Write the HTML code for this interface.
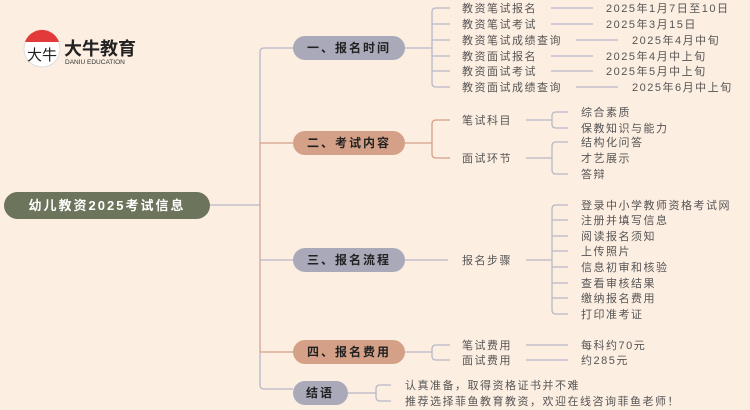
<!DOCTYPE html>
<html><head><meta charset="utf-8"><style>
body{margin:0;background:#fdeee2;}
svg{display:block;font-family:"Liberation Sans","Noto Sans CJK SC",sans-serif;}
.t{font-size:11px;fill:#555;letter-spacing:1.5px;}
.n{font-size:12px;font-weight:bold;fill:#222;letter-spacing:2px;}
</style></head><body>
<svg width="750" height="410" viewBox="0 0 750 410">
<rect width="750" height="410" fill="#fdeee2"/>
<!-- logo -->
<circle cx="42" cy="49" r="18" fill="#fff" stroke="#ddd"/>
<path d="M25 42 A18 18 0 0 1 59 42 Z" fill="#e23a3a"/>
<text x="27" y="60" font-size="15" fill="#222">大牛</text>
<text x="64" y="55" font-size="18" font-weight="bold" fill="#222">大牛教育</text>
<text x="65" y="64" font-size="6.5" fill="#333">DANIU EDUCATION</text>
<!-- root -->
<rect x="4" y="192" width="206" height="27" rx="13.5" fill="#6c745c"/>
<text x="107" y="210" text-anchor="middle" font-size="13" font-weight="bold" fill="#fff" letter-spacing="2">幼儿教资2025考试信息</text>
<g fill="none" stroke-width="1.3">
<path d="M210 205 H260" stroke="#b8b8c8"/>
<path d="M293 48 H264 Q260 48 260 52 V385 Q260 389 264 389 H293" stroke="#b8b8c8"/>
<path d="M260 143 H293 M260 352 H293" stroke="#d4a088"/>
<path d="M260 143 V352" stroke="#d4a088" stroke-width="1"/>
<path d="M260 260 H293" stroke="#b8b8c8"/>
<g stroke="#b8b8c8">
<path d="M405 48 H432 M450 8 H436 Q432 8 432 12 V83 Q432 87 436 87 H450 M432 24 H450 M432 40 H450 M432 56 H450 M432 71 H450"/>
<path d="M551 8 H593 M551 24 H593 M576 40 H618 M551 56 H593 M551 71 H593 M576 87 H618"/>
</g>
<g stroke="#d4a088">
<path d="M405 143 H432 M450 120 H436 Q432 120 432 124 V154 Q432 158 436 158 H450"/>
</g>
<g stroke="#b8b8c8">
<path d="M526 120 H552 M568 112 H556 Q552 112 552 116 V124 Q552 128 556 128 H568"/>
<path d="M526 158 H552 M568 142 H556 Q552 142 552 146 V170 Q552 174 556 174 H568"/>
<path d="M405 260 H448 M526 260 H552 M568 205 H556 Q552 205 552 209 V310 Q552 314 556 314 H568 M552 220 H568 M552 236 H568 M552 251 H568 M552 267 H568 M552 283 H568 M552 298 H568"/>
<path d="M405 352 H432 M450 345 H436 Q432 345 432 349 V356 Q432 360 436 360 H450 M526 345 H568 M526 360 H568"/>
<path d="M348 393 H376 M391 385 H380 Q376 385 376 389 V397 Q376 401 380 401 H391"/>
</g>
</g>
<rect x="293" y="36" width="112" height="24" rx="12" fill="#a9a9b9"/>
<text x="349" y="52" class="n" text-anchor="middle">一、报名时间</text>
<rect x="293" y="131" width="112" height="24" rx="12" fill="#d4a088"/>
<text x="349" y="147" class="n" text-anchor="middle">二、考试内容</text>
<rect x="293" y="248" width="112" height="24" rx="12" fill="#a9a9b9"/>
<text x="349" y="264" class="n" text-anchor="middle">三、报名流程</text>
<rect x="293" y="340" width="112" height="24" rx="12" fill="#d4a088"/>
<text x="349" y="356" class="n" text-anchor="middle">四、报名费用</text>
<rect x="293" y="381" width="55" height="24" rx="12" fill="#a9a9b9"/>
<text x="320" y="397" class="n" text-anchor="middle">结语</text>
<g>
<text x="462" y="12" class="t">教资笔试报名</text><text x="606" y="12" class="t">2025年1月7日至10日</text>
<text x="462" y="28" class="t">教资笔试考试</text><text x="606" y="28" class="t">2025年3月15日</text>
<text x="462" y="44" class="t">教资笔试成绩查询</text><text x="632" y="44" class="t">2025年4月中旬</text>
<text x="462" y="60" class="t">教资面试报名</text><text x="606" y="60" class="t">2025年4月中上旬</text>
<text x="462" y="75" class="t">教资面试考试</text><text x="606" y="75" class="t">2025年5月中上旬</text>
<text x="462" y="91" class="t">教资面试成绩查询</text><text x="632" y="91" class="t">2025年6月中上旬</text>
<text x="462" y="124" class="t">笔试科目</text>
<text x="462" y="162" class="t">面试环节</text>
<text x="581" y="116" class="t">综合素质</text>
<text x="581" y="132" class="t">保教知识与能力</text>
<text x="581" y="146" class="t">结构化问答</text>
<text x="581" y="162" class="t">才艺展示</text>
<text x="581" y="178" class="t">答辩</text>
<text x="462" y="264" class="t">报名步骤</text>
<text x="581" y="209" class="t">登录中小学教师资格考试网</text>
<text x="581" y="224" class="t">注册并填写信息</text>
<text x="581" y="240" class="t">阅读报名须知</text>
<text x="581" y="255" class="t">上传照片</text>
<text x="581" y="271" class="t">信息初审和核验</text>
<text x="581" y="287" class="t">查看审核结果</text>
<text x="581" y="302" class="t">缴纳报名费用</text>
<text x="581" y="318" class="t">打印准考证</text>
<text x="462" y="349" class="t">笔试费用</text><text x="581" y="349" class="t">每科约70元</text>
<text x="462" y="364" class="t">面试费用</text><text x="581" y="364" class="t">约285元</text>
<text x="405" y="389" class="t">认真准备，取得资格证书并不难</text>
<text x="405" y="405" class="t">推荐选择菲鱼教育教资，欢迎在线咨询菲鱼老师！</text>
</g>
</svg>
</body></html>
